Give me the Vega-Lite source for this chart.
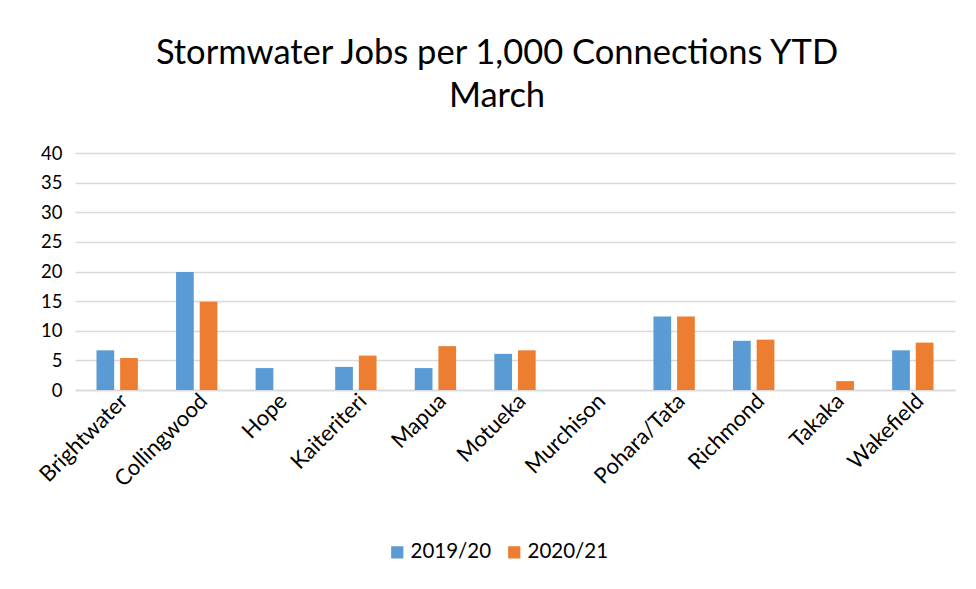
{
  "$schema": "https://vega.github.io/schema/vega-lite/v6.json",
  "width": 880,
  "height": 237,
  "autosize": {"type": "none"},
  "padding": {"left": 75, "top": 153, "right": 21, "bottom": 199},
  "background": "white",
  "title": {
    "text": ["Stormwater Jobs per 1,000 Connections YTD", "March"],
    "font": "Lato",
    "fontSize": 34.5,
    "fontWeight": "normal",
    "color": "#000000",
    "anchor": "middle",
    "dx": -18,
    "offset": 30,
    "lineHeight": 43
  },
  "data": {
    "values": [
      {"area": "Brightwater", "year": "2019/20", "value": 6.7},
      {"area": "Brightwater", "year": "2020/21", "value": 5.4},
      {"area": "Collingwood", "year": "2019/20", "value": 19.9},
      {"area": "Collingwood", "year": "2020/21", "value": 14.9},
      {"area": "Hope", "year": "2019/20", "value": 3.7},
      {"area": "Hope", "year": "2020/21", "value": 0},
      {"area": "Kaiteriteri", "year": "2019/20", "value": 3.9},
      {"area": "Kaiteriteri", "year": "2020/21", "value": 5.8},
      {"area": "Mapua", "year": "2019/20", "value": 3.7},
      {"area": "Mapua", "year": "2020/21", "value": 7.4},
      {"area": "Motueka", "year": "2019/20", "value": 6.1},
      {"area": "Motueka", "year": "2020/21", "value": 6.7},
      {"area": "Murchison", "year": "2019/20", "value": 0},
      {"area": "Murchison", "year": "2020/21", "value": 0},
      {"area": "Pohara/Tata", "year": "2019/20", "value": 12.4},
      {"area": "Pohara/Tata", "year": "2020/21", "value": 12.4},
      {"area": "Richmond", "year": "2019/20", "value": 8.3},
      {"area": "Richmond", "year": "2020/21", "value": 8.5},
      {"area": "Takaka", "year": "2019/20", "value": 0},
      {"area": "Takaka", "year": "2020/21", "value": 1.5},
      {"area": "Wakefield", "year": "2019/20", "value": 6.7},
      {"area": "Wakefield", "year": "2020/21", "value": 8.0}
    ]
  },
  "mark": {"type": "bar"},
  "encoding": {
    "x": {
      "field": "area",
      "type": "nominal",
      "sort": null,
      "scale": {"paddingInner": 0.48, "paddingOuter": 0.27},
      "axis": {
        "title": null,
        "labelAngle": -45,
        "labelAlign": "right",
        "labelBaseline": "top",
        "labelFont": "Lato",
        "labelFontSize": 22,
        "labelColor": "#000000",
        "labelPadding": 0,
        "ticks": false,
        "domainColor": "#d9d9d9",
        "domainWidth": 1.5,
        "grid": false
      }
    },
    "xOffset": {"field": "year", "type": "nominal", "scale": {"paddingInner": 0.25}},
    "y": {
      "field": "value",
      "type": "quantitative",
      "scale": {"domain": [0, 40], "nice": false},
      "axis": {
        "title": null,
        "values": [0, 5, 10, 15, 20, 25, 30, 35, 40],
        "labelFont": "Lato",
        "labelFontSize": 18.5,
        "labelColor": "#000000",
        "labelPadding": 13,
        "ticks": false,
        "domain": false,
        "gridColor": "#d9d9d9",
        "gridWidth": 1.5
      }
    },
    "color": {
      "field": "year",
      "type": "nominal",
      "scale": {"domain": ["2019/20", "2020/21"], "range": ["#5b9bd5", "#ed7d31"]},
      "legend": {
        "title": null,
        "orient": "none",
        "direction": "horizontal",
        "legendX": 312,
        "legendY": 389,
        "symbolType": "square",
        "symbolSize": 150,
        "symbolStrokeWidth": 0,
        "labelFont": "Lato",
        "labelFontSize": 20.5,
        "labelColor": "#000000",
        "columnPadding": 12,
        "labelOffset": 3
      }
    }
  },
  "config": {"view": {"stroke": null}}
}
